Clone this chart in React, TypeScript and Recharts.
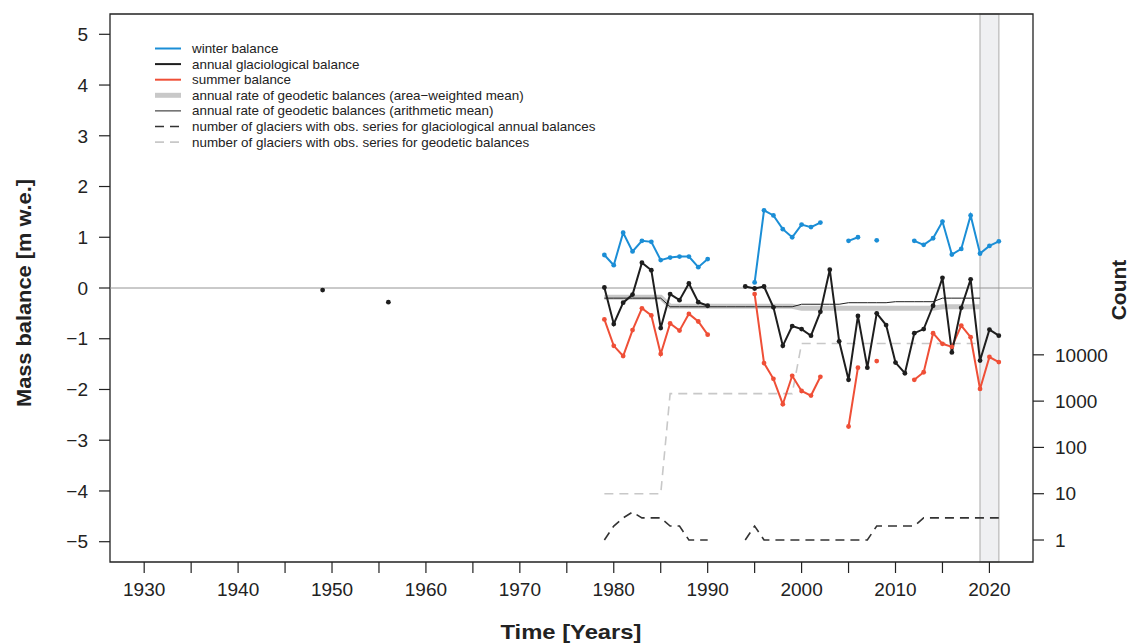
import { ComposedChart, Line, Scatter, XAxis, YAxis, ReferenceLine, ReferenceArea } from 'recharts';

// observation years of the glaciological series
const years = [
  1979, 1980, 1981, 1982, 1983, 1984, 1985, 1986, 1987, 1988, 1989, 1990,
  1991, 1992, 1993, 1994, 1995, 1996, 1997, 1998, 1999, 2000, 2001, 2002,
  2003, 2004, 2005, 2006, 2007, 2008, 2009, 2010, 2011, 2012, 2013, 2014,
  2015, 2016, 2017, 2018, 2019, 2020, 2021,
];

const winter = [
  0.65, 0.45, 1.09, 0.72, 0.93, 0.91, 0.55, 0.6, 0.62, 0.62, 0.41, 0.57,
  null, null, null, null, 0.11, 1.53, 1.43, 1.16, 1.0, 1.25, 1.2, 1.29,
  null, null, 0.93, 1.0, null, 0.94, null, null, null, 0.93, 0.85, 0.98,
  1.31, 0.66, 0.77, 1.43, 0.68, 0.83, 0.92,
];

const annual = [
  0.01, -0.71, -0.29, -0.13, 0.5, 0.35, -0.79, -0.12, -0.24, 0.09, -0.28, -0.35,
  null, null, null, 0.03, -0.01, 0.03, -0.38, -1.14, -0.75, -0.81, -0.94, -0.47,
  0.36, -1.05, -1.81, -0.55, -1.57, -0.5, -0.73, -1.47, -1.68, -0.89, -0.81, -0.35,
  0.2, -1.27, -0.39, 0.17, -1.43, -0.82, -0.94,
];

const summer = [
  -0.62, -1.14, -1.34, -0.83, -0.4, -0.54, -1.3, -0.7, -0.84, -0.51, -0.66, -0.92,
  null, null, null, null, -0.12, -1.48, -1.79, -2.29, -1.73, -2.03, -2.12, -1.75,
  null, null, -2.73, -1.57, null, -1.44, null, null, null, -1.81, -1.66, -0.89,
  -1.1, -1.16, -0.74, -0.97, -1.99, -1.36, -1.46,
];

// annual rate of geodetic balances
const geodArea = [
  -0.18, -0.18, -0.18, -0.18, -0.18, -0.18, -0.18, -0.36, -0.36, -0.36, -0.36, -0.36,
  -0.36, -0.36, -0.36, -0.36, -0.36, -0.36, -0.36, -0.36, -0.36, -0.4, -0.4, -0.4,
  -0.4, -0.4, -0.4, -0.4, -0.4, -0.4, -0.4, -0.4, -0.4, -0.4, -0.4, -0.4,
  -0.37, -0.37, -0.37, -0.37, -0.37, null, null,
];

const geodMean = [
  -0.2, -0.2, -0.2, -0.2, -0.2, -0.2, -0.2, -0.37, -0.37, -0.37, -0.37, -0.37,
  -0.37, -0.37, -0.37, -0.37, -0.37, -0.37, -0.37, -0.37, -0.37, -0.32, -0.32, -0.32,
  -0.32, -0.32, -0.29, -0.29, -0.29, -0.29, -0.29, -0.27, -0.27, -0.27, -0.27, -0.27,
  -0.2, -0.2, -0.2, -0.2, -0.2, null, null,
];

// number of glaciers
const nGlac = [
  1, 2, 3, 4, 3, 3, 3, 2, 2, 1, 1, 1,
  null, null, null, 1, 2, 1, 1, 1, 1, 1, 1, 1,
  1, 1, 1, 1, 1, 2, 2, 2, 2, 2, 3, 3,
  3, 3, 3, 3, 3, 3, 3,
];

const nGeod = [
  10, 10, 10, 10, 10, 10, 10, 1450, 1450, 1450, 1450, 1450,
  1450, 1450, 1450, 1450, 1450, 1450, 1450, 1450, 1450, 17500, 17500, 17500,
  17500, 17500, 17500, 17500, 17500, 17500, 17500, 17500, 17500, 17500, 17500, 17500,
  17500, 17500, 17500, 17500, 17500, null, null,
];

const earlyYears = [1949, 1956];
const earlyAnnual = [-0.04, -0.28];

const xTicks = [1930, 1935, 1940, 1945, 1950, 1955, 1960, 1965, 1970, 1975, 1980, 1985, 1990, 1995, 2000, 2005, 2010, 2015, 2020];
const yTicks = [-5, -4, -3, -2, -1, 0, 1, 2, 3, 4, 5];
const countTicks = [1, 10, 100, 1000, 10000];

const BLUE = '#1b8ed6';
const RED = '#ef4f37';
const BLACK = '#1e1e1e';
const LIGHT = '#c8c8c8';
const FONT = '"Liberation Sans", Arial, sans-serif';

const rows = years.map((year, i) => ({
  year,
  winter: winter[i],
  annual: annual[i],
  summer: summer[i],
  geodArea: geodArea[i],
  geodMean: geodMean[i],
  nGlac: nGlac[i],
  nGeod: nGeod[i],
}));

const earlyRows = earlyYears.map((year, i) => ({ year, annual: earlyAnnual[i] }));

const X_DOMAIN = [1926.36, 2024.64];
const Y_DOMAIN = [-5.4, 5.4];

const dot = (c: string) => ({ r: 2.4, fill: c, stroke: c, strokeWidth: 0 });
const tickStyle = { fontSize: 19, fill: '#222', fontFamily: FONT };
const minus = (v: number) => (v < 0 ? '\u2212' + Math.abs(v) : String(v));

const legendItems = [
  { label: 'winter balance', color: BLUE, width: 2, dash: undefined },
  { label: 'annual glaciological balance', color: BLACK, width: 2, dash: undefined },
  { label: 'summer balance', color: RED, width: 2, dash: undefined },
  { label: 'annual rate of geodetic balances (area\u2212weighted mean)', color: LIGHT, width: 5, dash: undefined },
  { label: 'annual rate of geodetic balances (arithmetic mean)', color: BLACK, width: 1, dash: undefined },
  { label: 'number of glaciers with obs. series for glaciological annual balances', color: '#333', width: 1.6, dash: '9 6' },
  { label: 'number of glaciers with obs. series for geodetic balances', color: LIGHT, width: 1.6, dash: '9 6' },
];

const Overlay = () => (
  <svg width={1129} height={643} style={{ position: 'absolute', left: 0, top: 0, pointerEvents: 'none' }}>
    {legendItems.map((it, i) => {
      const y = 48.5 + i * 15.6;
      return (
        <g key={it.label}>
          <line x1={155} x2={181} y1={y} y2={y} stroke={it.color} strokeWidth={it.width} strokeDasharray={it.dash} />
          <text x={192} y={y} dominantBaseline="central" fontSize={13.4} fill="#222" fontFamily={FONT}>{it.label}</text>
        </g>
      );
    })}
    <text x={23} y={293} transform="rotate(-90 23 293)" textAnchor="middle" dominantBaseline="central"
      fontSize={21} fontWeight="bold" fill="#222" fontFamily={FONT} textLength={228}
      lengthAdjust="spacingAndGlyphs">Mass balance [m w.e.]</text>
    <text x={571} y={631} textAnchor="middle" dominantBaseline="central"
      fontSize={21} fontWeight="bold" fill="#222" fontFamily={FONT} textLength={141}
      lengthAdjust="spacingAndGlyphs">Time [Years]</text>
    <text x={1118} y={290} transform="rotate(-90 1118 290)" textAnchor="middle" dominantBaseline="central"
      fontSize={21} fontWeight="bold" fill="#222" fontFamily={FONT}>Count</text>
  </svg>
);

export default function App() {
  return (
    <div style={{ position: 'absolute', left: 0, top: 0, width: 1129, height: 643, background: '#fff', fontFamily: FONT }}>
      <ComposedChart width={1129} height={643} data={rows} margin={{ top: 14, right: 0, bottom: 0, left: 0 }}>
        <XAxis type="number" dataKey="year" domain={X_DOMAIN} ticks={xTicks} interval={0} allowDataOverflow
          tickFormatter={(v: number) => (v % 10 === 0 ? String(v) : '')}
          height={81} tick={tickStyle} tickSize={11} tickMargin={10} axisLine={false}
          tickLine={{ stroke: '#222', strokeWidth: 1.2 }} />
        <YAxis yAxisId="mb" type="number" domain={Y_DOMAIN} ticks={yTicks} interval={0} allowDataOverflow
          width={110} tick={tickStyle} tickSize={11} tickMargin={11} axisLine={false} tickFormatter={minus}
          tickLine={{ stroke: '#222', strokeWidth: 1.2 }} />
        <YAxis yAxisId="count" orientation="right" type="number" scale="log" domain={[0.335, 2.3e11]}
          ticks={countTicks} interval={0} allowDataOverflow width={96} tick={tickStyle} tickSize={11} tickMargin={11}
          axisLine={false} tickLine={{ stroke: '#222', strokeWidth: 1.2 }} />

        <ReferenceArea yAxisId="mb" x1={2019} x2={2021} y1={-5.4} y2={5.4} fill="#eff0f2" fillOpacity={1}
          stroke="#c4c4c4" strokeWidth={1.5} />
        <ReferenceLine yAxisId="mb" y={0} stroke="#949494" strokeWidth={1} />

        <Line yAxisId="count" dataKey="nGeod" stroke={LIGHT} strokeWidth={1.6} strokeDasharray="9 6"
          dot={false} activeDot={false} isAnimationActive={false} />
        <Line yAxisId="count" dataKey="nGlac" stroke="#333" strokeWidth={1.6} strokeDasharray="9 6"
          dot={false} activeDot={false} isAnimationActive={false} />
        <Line yAxisId="mb" dataKey="geodArea" stroke={LIGHT} strokeWidth={5}
          dot={false} activeDot={false} isAnimationActive={false} />
        <Line yAxisId="mb" dataKey="geodMean" stroke={BLACK} strokeWidth={1}
          dot={false} activeDot={false} isAnimationActive={false} />
        <Line yAxisId="mb" dataKey="winter" stroke={BLUE} strokeWidth={2} dot={dot(BLUE)}
          activeDot={false} isAnimationActive={false} />
        <Line yAxisId="mb" dataKey="summer" stroke={RED} strokeWidth={2} dot={dot(RED)}
          activeDot={false} isAnimationActive={false} />
        <Line yAxisId="mb" dataKey="annual" stroke={BLACK} strokeWidth={2} dot={dot(BLACK)}
          activeDot={false} isAnimationActive={false} />
        <Scatter yAxisId="mb" data={earlyRows} dataKey="annual" isAnimationActive={false}
          shape={(p: any) => <circle cx={p.cx} cy={p.cy} r={2.4} fill={BLACK} />} />

        <ReferenceArea yAxisId="mb" x1={X_DOMAIN[0]} x2={X_DOMAIN[1]} y1={-5.4} y2={5.4} fill="none"
          stroke="#222" strokeWidth={1.3} />
      </ComposedChart>
      <Overlay />
    </div>
  );
}
